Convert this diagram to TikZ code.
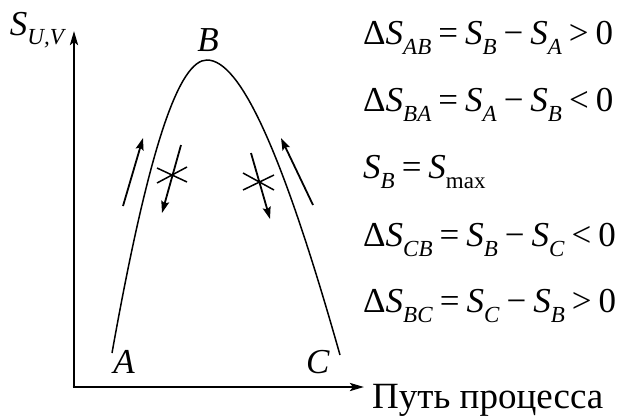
\documentclass[tikz,border=0pt]{standalone}
\usepackage{fontspec}
\setmainfont{Liberation Serif}
\usetikzlibrary{arrows.meta}
\newcommand\mysub[1]{\raisebox{-0.27em}{\fontsize{23}{23}\selectfont #1}}
\newcommand\Sv{\textit{S}}
\newcommand\gap{\hspace{0.2em}}
\begin{document}
\begin{tikzpicture}[x=1pt,y=-1pt,
  lbl/.style={font=\fontsize{35}{38}\selectfont, inner sep=0pt},
  eq/.style={lbl, anchor=west},
  axis/.style={line width=2.6pt, -{Stealth[length=14pt,width=8pt,inset=3pt]}},
  curve/.style={line width=1.5pt},
  flow/.style={line width=1.8pt, -{Stealth[length=12pt,width=8pt,inset=2pt]}},
  crossl/.style={line width=1.5pt}]
\useasboundingbox (0,0) rectangle (620,418);
% axes
\coordinate (O) at (74,387);
\coordinate (Ytop) at (74,31);
\coordinate (Xend) at (364,387);
\draw[axis] (O) -- (Ytop);
\draw[axis] ([xshift=-1.3pt]O) -- (Xend);
% curve
\coordinate (A) at (112,353);
\coordinate (B) at (207,60);
\coordinate (C) at (340,355);
\draw[curve] (A) .. controls (150,140) and (180,60) .. (B)
  .. controls (240,60) and (282,150) .. (C);
% arrows
\coordinate (a1s) at (123,206); \coordinate (a1e) at (143,138);
\coordinate (a2s) at (181,145); \coordinate (a2e) at (162,213);
\coordinate (a3s) at (251,153); \coordinate (a3e) at (270,219);
\coordinate (a4s) at (313,205); \coordinate (a4e) at (281,138);
\draw[flow] (a1s) -- (a1e);
\draw[flow] (a2s) -- (a2e);
\draw[flow] (a3s) -- (a3e);
\draw[flow] (a4s) -- (a4e);
% crosses
\coordinate (x1a) at (157,168); \coordinate (x1b) at (187,182);
\coordinate (x1c) at (157,183); \coordinate (x1d) at (187,167);
\draw[crossl] (x1a) -- (x1b);
\draw[crossl] (x1c) -- (x1d);
\coordinate (x2a) at (243,173); \coordinate (x2b) at (274,190);
\coordinate (x2c) at (243,190); \coordinate (x2d) at (274,175);
\draw[crossl] (x2a) -- (x2b);
\draw[crossl] (x2c) -- (x2d);
% labels
\node[lbl] (ylab) at (38,30) {\Sv\mysub{\textit{U,V}}};
\node[lbl] (Blab) at (208,40) {\textit{B}};
\node[lbl] (Alab) at (124,362) {\textit{A}};
\node[lbl] (Clab) at (318,362) {\textit{C}};
\node[lbl, font=\fontsize{37}{40}\selectfont, anchor=west] (xlab) at (372,400) {Путь процесса};
% equations
\node[eq] (e1) at (363,38) {Δ\Sv\mysub{\textit{AB}}\gap=\gap\Sv\mysub{\textit{B}}\gap−\gap\Sv\mysub{\textit{A}}\gap>\gap0};
\node[eq] (e2) at (363,105) {Δ\Sv\mysub{\textit{BA}}\gap=\gap\Sv\mysub{\textit{A}}\gap−\gap\Sv\mysub{\textit{B}}\gap<\gap0};
\node[eq] (e3) at (363,172) {\Sv\mysub{\textit{B}}\gap=\gap\Sv\mysub{max}};
\node[eq] (e4) at (363,240) {Δ\Sv\mysub{\textit{CB}}\gap=\gap\Sv\mysub{\textit{B}}\gap−\gap\Sv\mysub{\textit{C}}\gap<\gap0};
\node[eq] (e5) at (363,306) {Δ\Sv\mysub{\textit{BC}}\gap=\gap\Sv\mysub{\textit{C}}\gap−\gap\Sv\mysub{\textit{B}}\gap>\gap0};
\end{tikzpicture}
\end{document}
